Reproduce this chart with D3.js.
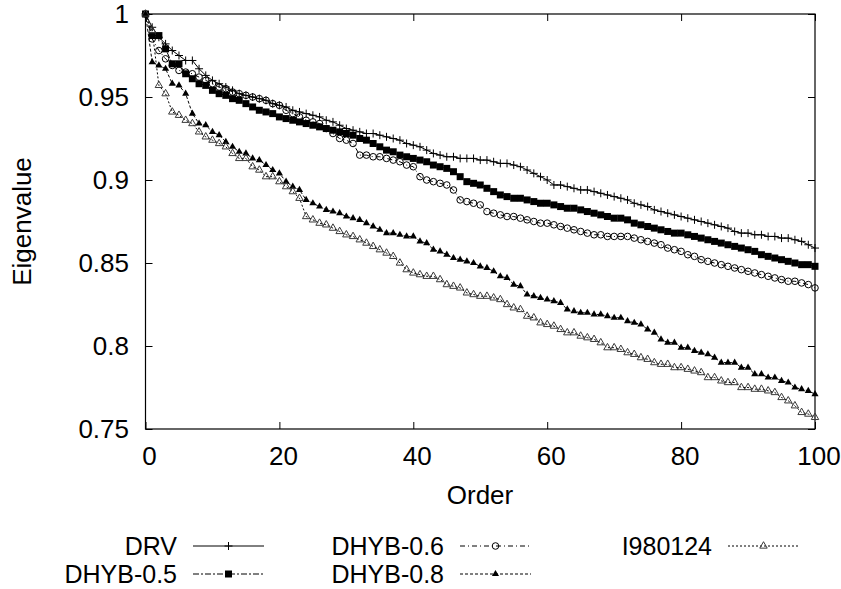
<!DOCTYPE html>
<html>
<head>
<meta charset="utf-8">
<script src="https://cdn.jsdelivr.net/npm/d3@7"></script>
<style>
  html, body { margin: 0; padding: 0; background: #fff; }
  svg { display: block; }
  text { font-family: "Liberation Sans", Arial, sans-serif; font-size: 26px; fill: #000; }
  .legenda text { font-size: 25px; }
</style>
</head>
<body>
<div id="grafico"></div>
<script>
// valores (Order = posicao no array, 0..100)
var drv = [1.000,0.992,0.986,0.982,0.978,0.975,0.972,0.972,0.967,0.963,
  0.960,0.958,0.956,0.954,0.952,0.951,0.950,0.949,0.948,0.946,
  0.945,0.944,0.942,0.941,0.940,0.939,0.938,0.936,0.935,0.933,
  0.931,0.930,0.929,0.928,0.928,0.927,0.926,0.925,0.924,0.922,
  0.921,0.920,0.918,0.916,0.915,0.914,0.914,0.913,0.913,0.913,
  0.912,0.912,0.911,0.910,0.910,0.909,0.908,0.906,0.904,0.902,
  0.900,0.897,0.897,0.896,0.895,0.894,0.894,0.893,0.892,0.891,
  0.890,0.889,0.888,0.886,0.885,0.884,0.882,0.881,0.880,0.879,
  0.878,0.877,0.876,0.875,0.874,0.873,0.872,0.871,0.869,0.868,
  0.868,0.867,0.867,0.866,0.866,0.865,0.865,0.864,0.863,0.861,
  0.859];

var dhyb05 = [1.000,0.987,0.987,0.979,0.970,0.970,0.964,0.961,0.958,0.957,
  0.954,0.952,0.951,0.949,0.948,0.946,0.944,0.942,0.941,0.940,
  0.938,0.937,0.936,0.935,0.934,0.933,0.932,0.931,0.930,0.929,
  0.928,0.927,0.925,0.924,0.922,0.920,0.918,0.917,0.915,0.914,
  0.913,0.912,0.911,0.909,0.908,0.907,0.905,0.902,0.899,0.898,
  0.897,0.895,0.893,0.891,0.890,0.889,0.889,0.888,0.887,0.886,
  0.886,0.885,0.884,0.883,0.883,0.882,0.881,0.880,0.879,0.878,
  0.877,0.877,0.876,0.874,0.873,0.872,0.871,0.870,0.869,0.868,
  0.868,0.867,0.866,0.865,0.864,0.863,0.862,0.861,0.860,0.859,
  0.858,0.857,0.855,0.854,0.853,0.852,0.851,0.850,0.849,0.849,
  0.848];

var dhyb06 = [1.000,0.985,0.978,0.973,0.969,0.966,0.965,0.964,0.962,0.960,
  0.958,0.956,0.955,0.953,0.952,0.951,0.950,0.949,0.948,0.946,
  0.945,0.942,0.940,0.938,0.936,0.935,0.934,0.931,0.928,0.925,
  0.924,0.922,0.915,0.915,0.914,0.914,0.913,0.912,0.911,0.909,
  0.908,0.902,0.900,0.899,0.898,0.897,0.894,0.888,0.887,0.886,
  0.885,0.881,0.880,0.879,0.878,0.878,0.877,0.876,0.875,0.874,
  0.874,0.873,0.872,0.871,0.870,0.869,0.868,0.867,0.867,0.866,
  0.866,0.866,0.866,0.865,0.864,0.863,0.862,0.861,0.859,0.858,
  0.857,0.855,0.854,0.852,0.851,0.850,0.849,0.848,0.847,0.846,
  0.845,0.844,0.843,0.842,0.841,0.840,0.839,0.839,0.838,0.837,
  0.835];

var dhyb08 = [1.000,0.971,0.969,0.967,0.958,0.957,0.952,0.940,0.934,0.933,
  0.929,0.927,0.923,0.920,0.917,0.916,0.913,0.912,0.909,0.906,
  0.904,0.899,0.896,0.894,0.888,0.886,0.884,0.882,0.881,0.880,
  0.878,0.877,0.876,0.874,0.872,0.870,0.868,0.868,0.867,0.866,
  0.866,0.863,0.862,0.858,0.857,0.855,0.853,0.852,0.851,0.850,
  0.848,0.847,0.845,0.842,0.841,0.837,0.836,0.831,0.830,0.829,
  0.828,0.827,0.826,0.822,0.821,0.820,0.820,0.819,0.819,0.818,
  0.817,0.817,0.815,0.814,0.813,0.810,0.808,0.804,0.802,0.802,
  0.799,0.799,0.797,0.796,0.795,0.793,0.790,0.790,0.790,0.787,
  0.787,0.783,0.783,0.781,0.781,0.779,0.778,0.775,0.774,0.773,
  0.771];

var i980124 = [1.000,0.990,0.957,0.952,0.941,0.939,0.936,0.934,0.929,0.926,
  0.924,0.922,0.920,0.916,0.913,0.913,0.908,0.906,0.902,0.902,
  0.899,0.896,0.893,0.889,0.878,0.876,0.874,0.873,0.871,0.869,
  0.867,0.866,0.864,0.862,0.860,0.858,0.856,0.854,0.850,0.846,
  0.844,0.843,0.842,0.842,0.840,0.837,0.836,0.835,0.832,0.831,
  0.830,0.830,0.829,0.828,0.825,0.823,0.822,0.818,0.817,0.814,
  0.813,0.812,0.810,0.808,0.808,0.806,0.805,0.804,0.802,0.799,
  0.799,0.798,0.796,0.795,0.793,0.792,0.790,0.789,0.789,0.787,
  0.787,0.786,0.785,0.784,0.781,0.781,0.779,0.778,0.778,0.775,
  0.775,0.774,0.774,0.773,0.772,0.769,0.767,0.764,0.760,0.759,
  0.757];

var nomesSeries = ["DRV", "DHYB-0.5", "DHYB-0.6", "DHYB-0.8", "I980124"];
var xTicks = [0, 20, 40, 60, 80, 100];
var yTicks = [0.75, 0.8, 0.85, 0.9, 0.95, 1];
var yTickLabels = ["0.75", "0.8", "0.85", "0.9", "0.95", "1"];

// estilo de cada serie (linha + ponto), parecido com o gnuplot
var estilos = {
  "DRV":      { dash: null,        ponto: "mais" },
  "DHYB-0.5": { dash: "6,2,2,2",   ponto: "quadrado" },
  "DHYB-0.6": { dash: "5,3,1,3",   ponto: "circulo" },
  "DHYB-0.8": { dash: "3,2",       ponto: "triCheio" },
  "I980124":  { dash: "2,2",       ponto: "triVazio" }
};

var largura = 841, altura = 589;
var esq = 145.5, dir = 815, topo = 14, baixo = 429;

var svg = d3.select("#grafico").append("svg")
  .attr("width", largura)
  .attr("height", altura);

var x = d3.scaleLinear().domain([0, 100]).range([esq, dir]);
var y = d3.scaleLinear().domain([0.75, 1]).range([baixo, topo]);

// eixos: ticks para dentro, nos quatro lados
var eixoX = d3.axisBottom(x).tickValues(xTicks).tickSize(-7).tickFormat("");
var eixoY = d3.axisLeft(y).tickValues(yTicks).tickSize(-7).tickFormat("");
var eixoXtopo = d3.axisTop(x).tickValues(xTicks).tickSize(-7).tickFormat("");
var eixoYdir = d3.axisRight(y).tickValues(yTicks).tickSize(-7).tickFormat("");

svg.append("g").attr("transform", "translate(0," + baixo + ")").call(eixoX);
svg.append("g").attr("transform", "translate(" + esq + ",0)").call(eixoY);
svg.append("g").attr("transform", "translate(0," + topo + ")").call(eixoXtopo);
svg.append("g").attr("transform", "translate(" + dir + ",0)").call(eixoYdir);
svg.selectAll(".domain").remove();
svg.selectAll(".tick line").attr("stroke", "#000").attr("stroke-width", 1);

svg.append("rect")
  .attr("x", esq).attr("y", topo)
  .attr("width", dir - esq).attr("height", baixo - topo)
  .attr("fill", "none").attr("stroke", "#000").attr("stroke-width", 1.2);

// rotulos dos ticks
svg.selectAll(".rotY").data(yTicks).enter().append("text")
  .attr("x", 129)
  .attr("y", function(d) { return y(d); })
  .attr("text-anchor", "end")
  .attr("dominant-baseline", "central")
  .text(function(d, i) { return yTickLabels[i]; });

svg.selectAll(".rotX").data(xTicks).enter().append("text")
  .attr("x", function(d) { return x(d) + 4; })
  .attr("y", 456)
  .attr("text-anchor", "middle")
  .attr("dominant-baseline", "central")
  .text(function(d) { return d; });

svg.append("text")
  .attr("x", 480).attr("y", 495)
  .attr("text-anchor", "middle")
  .attr("dominant-baseline", "central")
  .text("Order");

svg.append("text")
  .attr("transform", "translate(22," + ((topo + baixo) / 2) + ") rotate(-90)")
  .attr("text-anchor", "middle")
  .attr("dominant-baseline", "central")
  .text("Eigenvalue");

function desenhaPonto(g, tipo, px, py) {
  if (tipo == "mais") {
    g.append("path")
      .attr("d", "M" + (px - 4) + "," + py + "h8M" + px + "," + (py - 4) + "v8")
      .attr("stroke", "#000").attr("stroke-width", 1).attr("fill", "none");
  } else if (tipo == "quadrado") {
    g.append("path")
      .attr("d", d3.symbol(d3.symbolSquare, 49)())
      .attr("transform", "translate(" + px + "," + py + ")")
      .attr("fill", "#000");
  } else if (tipo == "circulo") {
    g.append("circle")
      .attr("cx", px).attr("cy", py).attr("r", 3.3)
      .attr("fill", "none").attr("stroke", "#000").attr("stroke-width", 1);
  } else if (tipo == "triCheio") {
    g.append("path")
      .attr("d", d3.symbol(d3.symbolTriangle, 22)())
      .attr("transform", "translate(" + px + "," + py + ")")
      .attr("fill", "#000");
  } else if (tipo == "triVazio") {
    g.append("path")
      .attr("d", d3.symbol(d3.symbolTriangle, 24)())
      .attr("transform", "translate(" + px + "," + py + ")")
      .attr("fill", "none").attr("stroke", "#3a3a3a").attr("stroke-width", 1);
  }
}

var dados = [drv, dhyb05, dhyb06, dhyb08, i980124];

var linha = d3.line()
  .x(function(d, i) { return x(i); })
  .y(function(d) { return y(d); });

dados.forEach(function(serie, k) {
  var estilo = estilos[nomesSeries[k]];
  var g = svg.append("g");
  g.append("path")
    .datum(serie)
    .attr("d", linha)
    .attr("fill", "none")
    .attr("stroke", "#000")
    .attr("stroke-width", 1)
    .attr("stroke-dasharray", estilo.dash);
  serie.forEach(function(v, i) {
    desenhaPonto(g, estilo.ponto, x(i), y(v));
  });
});

// legenda (3 colunas, 2 linhas)
var legenda = [
  { nome: "DRV",      tx: 177, ty: 546 },
  { nome: "DHYB-0.5", tx: 177, ty: 574 },
  { nome: "DHYB-0.6", tx: 444, ty: 546 },
  { nome: "DHYB-0.8", tx: 444, ty: 574 },
  { nome: "I980124",  tx: 712, ty: 546 }
];

var gLegenda = svg.append("g").attr("class", "legenda");

legenda.forEach(function(item) {
  var estilo = estilos[item.nome];
  var g = gLegenda.append("g");
  g.append("text")
    .attr("x", item.tx).attr("y", item.ty)
    .attr("text-anchor", "end")
    .attr("dominant-baseline", "central")
    .text(item.nome);
  var x0 = item.tx + 16, x1 = item.tx + 87;
  g.append("line")
    .attr("x1", x0).attr("x2", x1)
    .attr("y1", item.ty).attr("y2", item.ty)
    .attr("stroke", "#000").attr("stroke-width", 1)
    .attr("stroke-dasharray", estilo.dash);
  desenhaPonto(g, estilo.ponto, (x0 + x1) / 2, item.ty);
});
</script>
</body>
</html>
